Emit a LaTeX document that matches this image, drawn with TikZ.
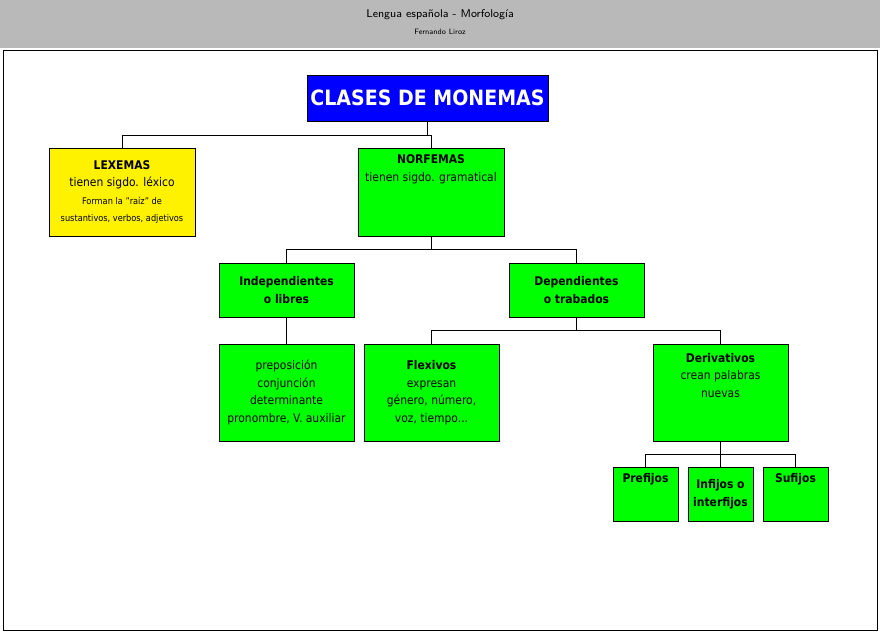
\documentclass[tikz,border=0pt]{standalone}
\usepackage{fontspec}
\setmainfont{DejaVu Sans Condensed}
\usetikzlibrary{positioning}
\tikzset{
    caja/.style={
        rectangle,
        draw=black,
        fill=green,
        align=center,
        inner sep=1pt,
        font=\fontsize{8.5}{12.5}\selectfont,
    },
    amarilla/.style={
        caja,
        fill=yellow,
    },
    conector/.style={
        draw=black,
        line width=0.5pt,
    },
}
\begin{document}
\begin{tikzpicture}[x=0.025cm,y=-0.025cm]
    \useasboundingbox (0,0) rectangle (880,632);
    \fill[gray!55] (0,0) rectangle (880,48);
    \node[font=\fontsize{8}{9}\selectfont\sffamily](tit) at (440,15) {Lengua española - Morfología};
    \node[font=\fontsize{5.5}{6}\selectfont\sffamily](aut) at (440,32) {Fernando Liroz};
    \draw[fill=white] (3,50) rectangle (877,630);
    \node[caja,fill=blue,text=white,minimum width=241*0.025cm,minimum height=46*0.025cm,
        font=\fontsize{15}{16}\selectfont\bfseries](cm) at (427.5,98) {CLASES DE MONEMAS};
    \node[amarilla,minimum width=146*0.025cm,minimum height=88*0.025cm](lex) at (122,192)
        {\textbf{LEXEMAS}\\tienen sigdo. léxico\\{\fontsize{6.5}{9}\selectfont Forman la "raíz" de}\\{\fontsize{6.5}{9}\selectfont sustantivos, verbos, adjetivos}};
    \node[caja,minimum width=146*0.025cm,minimum height=88*0.025cm,anchor=north](nor) at (431,148)
        {\textbf{NORFEMAS}\\tienen sigdo. gramatical\\[22pt]};
    \node[caja,minimum width=135*0.025cm,minimum height=54*0.025cm](ind) at (286.5,290)
        {\textbf{Independientes}\\\textbf{o libres}};
    \node[caja,minimum width=135*0.025cm,minimum height=54*0.025cm](dep) at (576.5,290)
        {\textbf{Dependientes}\\\textbf{o trabados}};
    \node[caja,minimum width=135*0.025cm,minimum height=97*0.025cm](pre) at (286.5,392.5)
        {preposición\\conjunción\\determinante\\pronombre, V. auxiliar};
    \node[caja,minimum width=135*0.025cm,minimum height=97*0.025cm](fle) at (431.5,392.5)
        {\textbf{Flexivos}\\expresan\\género, número,\\voz, tiempo...};
    \node[caja,minimum width=135*0.025cm,minimum height=97*0.025cm](der) at (720.5,392.5)
        {\textbf{Derivativos}\\crean palabras\\nuevas\\[12pt]};
    \node[caja,minimum width=65*0.025cm,minimum height=54*0.025cm](prf) at (645.5,494)
        {\textbf{Prefijos}\\[10pt]};
    \node[caja,minimum width=65*0.025cm,minimum height=54*0.025cm](inf) at (720.5,494)
        {\textbf{Infijos o}\\\textbf{interfijos}};
    \node[caja,minimum width=65*0.025cm,minimum height=54*0.025cm](suf) at (795.5,494)
        {\textbf{Sufijos}\\[10pt]};
    % arbol
    \draw[conector] (cm.south) -- ++(0,14) -| (lex.north);
    \draw[conector] (cm.south) -- ++(0,14) -| (nor.north);
    \draw[conector] (nor.south) -- ++(0,13) -| (ind.north);
    \draw[conector] (nor.south) -- ++(0,13) -| (dep.north);
    \draw[conector] (ind) -- (pre);
    \draw[conector] (dep.south) -- ++(0,13) -| (fle.north);
    \draw[conector] (dep.south) -- ++(0,13) -| (der.north);
    \draw[conector] (der.south) -- ++(0,13) -| (prf.north);
    \draw[conector] (der) -- (inf);
    \draw[conector] (der.south) -- ++(0,13) -| (suf.north);
\end{tikzpicture}
\end{document}
